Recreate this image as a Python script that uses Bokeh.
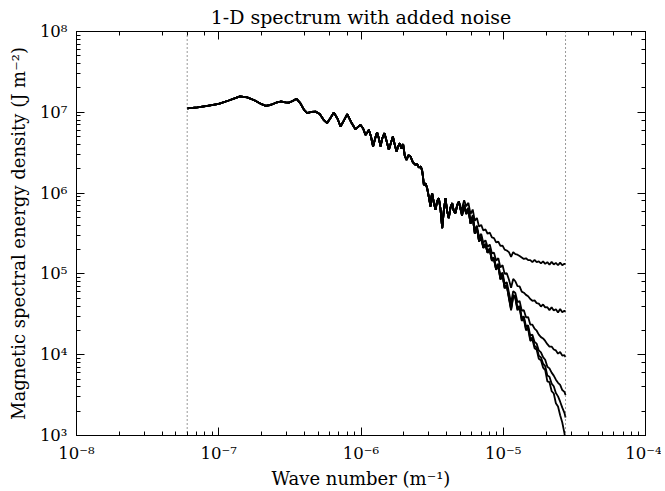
from bokeh.plotting import figure
from bokeh.models import LogAxis, CustomJSTickFormatter, Span, Range1d
from bokeh.embed import file_html
from bokeh.resources import INLINE

# ---- data (wave number in m^-1, energy density in J m^-2)
shared_k = [6.0e-8, 7.08e-8, 8.32e-8, 1.0e-7, 1.175e-7, 1.32e-7, 1.41e-7, 1.585e-7, 1.78e-7, 2.0e-7,
            2.14e-7, 2.34e-7, 2.57e-7, 2.72e-7, 2.95e-7, 3.11e-7, 3.31e-7, 3.52e-7, 3.72e-7, 3.98e-7,
            4.19e-7, 4.47e-7, 4.79e-7, 5.13e-7, 5.50e-7, 5.78e-7, 6.10e-7, 6.44e-7, 6.84e-7, 7.18e-7,
            7.59e-7, 8.0e-7, 8.51e-7, 9.14e-7, 9.55e-7, 9.9e-7, 1.035e-6, 1.076e-6, 1.109e-6, 1.135e-6,
            1.175e-6, 1.216e-6, 1.259e-6, 1.297e-6, 1.334e-6, 1.371e-6, 1.413e-6, 1.462e-6, 1.514e-6, 1.570e-6,
            1.622e-6, 1.675e-6, 1.726e-6, 1.778e-6, 1.828e-6, 1.875e-6, 1.928e-6, 1.977e-6, 2.032e-6, 2.089e-6,
            2.158e-6, 2.228e-6, 2.317e-6, 2.415e-6, 2.483e-6, 2.553e-6, 2.630e-6, 2.692e-6, 2.729e-6, 2.767e-6,
            2.844e-6, 2.917e-6, 2.999e-6, 3.083e-6, 3.126e-6, 3.162e-6, 3.251e-6, 3.342e-6, 3.428e-6, 3.524e-6,
            3.622e-6, 3.724e-6, 3.819e-6, 3.926e-6, 4.027e-6, 4.140e-6, 4.256e-6, 4.375e-6, 4.487e-6, 4.613e-6,
            4.742e-6, 4.875e-6, 5.012e-6]
shared_E = [1.12e7, 1.15e7, 1.20e7, 1.27e7, 1.40e7, 1.51e7, 1.57e7, 1.53e7, 1.41e7, 1.26e7,
            1.20e7, 1.24e7, 1.33e7, 1.36e7, 1.33e7, 1.32e7, 1.38e7, 1.47e7, 1.32e7, 1.07e7,
            9.75e6, 1.01e7, 1.02e7, 9.55e6, 7.94e6, 7.35e6, 8.51e6, 9.95e6, 8.32e6, 6.67e6,
            7.94e6, 9.48e6, 7.59e6, 6.18e6, 6.61e6, 7.0e6, 6.31e6, 5.26e6, 5.62e6, 6.07e6,
            5.01e6, 3.78e6, 4.79e6, 5.68e6, 4.79e6, 3.78e6, 4.79e6, 5.52e6, 4.37e6, 3.44e6,
            4.17e6, 5.01e6, 3.98e6, 3.27e6, 3.80e6, 4.15e6, 3.55e6, 4.04e6, 2.88e6, 2.58e6,
            2.95e6, 2.84e6, 2.40e6, 2.24e6, 2.29e6, 2.07e6, 2.14e6, 1.89e6, 1.58e6, 1.26e6,
            1.32e6, 1.15e6, 8.91e5, 6.82e5, 8.91e5, 9.98e5, 7.59e5, 6.21e5, 7.94e5, 8.65e5,
            6.31e5, 3.68e5, 6.03e5, 8.65e5, 6.03e5, 4.90e5, 6.61e5, 7.52e5, 6.03e5, 5.65e5,
            7.08e5, 7.87e5, 6.31e5]

tail_k = [5.13e-6, 5.31e-6, 5.50e-6, 5.69e-6, 5.89e-6, 6.10e-6, 6.31e-6, 6.53e-6, 6.76e-6, 7.00e-6,
          7.24e-6, 7.50e-6, 7.76e-6, 8.04e-6, 8.32e-6, 8.61e-6, 8.91e-6, 9.23e-6, 9.55e-6, 9.89e-6,
          1.023e-5, 1.059e-5, 1.096e-5, 1.135e-5, 1.175e-5, 1.216e-5, 1.259e-5, 1.303e-5, 1.349e-5, 1.396e-5,
          1.445e-5, 1.496e-5, 1.549e-5, 1.603e-5, 1.660e-5, 1.718e-5, 1.778e-5, 1.841e-5, 1.905e-5, 1.972e-5,
          2.042e-5, 2.113e-5, 2.188e-5, 2.265e-5, 2.344e-5, 2.427e-5, 2.512e-5, 2.600e-5, 2.692e-5, 2.742e-5]

tail_no_noise = [5.25e5, 6.92e5, 5.50e5, 6.31e5, 4.17e5, 5.01e5, 3.16e5, 3.63e5, 2.51e5, 2.82e5,
                 2.09e5, 2.29e5, 1.82e5, 2.00e5, 1.45e5, 1.51e5, 1.12e5, 1.26e5, 8.51e4, 9.55e4,
                 6.61e4, 7.08e4, 5.01e4, 3.55e4, 5.25e4, 5.01e4, 3.55e4, 3.80e4, 2.63e4, 2.75e4,
                 2.00e4, 2.09e4, 1.48e4, 1.55e4, 1.20e4, 1.15e4, 8.91e3, 8.51e3, 6.92e3, 6.46e3,
                 4.68e3, 4.57e3, 3.55e3, 3.31e3, 2.51e3, 2.29e3, 1.78e3, 1.45e3, 1.07e3, 8.7e2]
tail_noise_1 = [6.55e5, 8.16e5, 6.86e5, 7.58e5, 5.50e5, 6.26e5, 4.54e5, 4.91e5, 3.85e5, 4.04e5,
                3.45e5, 3.55e5, 3.14e5, 3.24e5, 2.83e5, 2.78e5, 2.45e5, 2.51e5, 2.22e5, 2.24e5,
                2.00e5, 1.95e5, 1.86e5, 1.63e5, 1.86e5, 1.76e5, 1.73e5, 1.67e5, 1.60e5, 1.53e5,
                1.56e5, 1.48e5, 1.48e5, 1.40e5, 1.49e5, 1.40e5, 1.43e5, 1.35e5, 1.43e5, 1.33e5,
                1.40e5, 1.30e5, 1.41e5, 1.31e5, 1.37e5, 1.28e5, 1.38e5, 1.28e5, 1.34e5, 1.31e5]
tail_noise_2 = [5.58e5, 7.23e5, 5.85e5, 6.63e5, 4.51e5, 5.32e5, 3.51e5, 3.95e5, 2.85e5, 3.13e5,
                2.44e5, 2.61e5, 2.16e5, 2.31e5, 1.80e5, 1.83e5, 1.46e5, 1.57e5, 1.20e5, 1.28e5,
                1.00e5, 1.02e5, 8.51e4, 6.75e4, 8.65e4, 8.11e4, 7.05e4, 7.00e4, 6.03e4, 5.85e4,
                5.50e4, 5.29e4, 4.88e4, 4.65e4, 4.70e4, 4.35e4, 4.29e4, 3.95e4, 4.19e4, 3.85e4,
                3.87e4, 3.56e4, 3.86e4, 3.53e4, 3.65e4, 3.33e4, 3.68e4, 3.35e4, 3.51e4, 3.39e4]
tail_noise_3 = [5.34e5, 7.00e5, 5.59e5, 6.39e5, 4.26e5, 5.09e5, 3.25e5, 3.71e5, 2.60e5, 2.90e5,
                2.18e5, 2.37e5, 1.91e5, 2.08e5, 1.54e5, 1.59e5, 1.21e5, 1.34e5, 9.41e4, 1.04e5,
                7.49e4, 7.88e4, 5.91e4, 4.38e4, 6.13e4, 5.81e4, 4.45e4, 4.63e4, 3.51e4, 3.55e4,
                2.90e4, 2.92e4, 2.36e4, 2.35e4, 2.10e4, 1.98e4, 1.77e4, 1.65e4, 1.59e4, 1.48e4,
                1.35e4, 1.26e4, 1.26e4, 1.16e4, 1.13e4, 1.03e4, 1.08e4, 9.75e3, 9.87e3, 9.37e3]
tail_noise_4 = [5.27e5, 6.94e5, 5.52e5, 6.33e5, 4.19e5, 5.03e5, 3.18e5, 3.65e5, 2.53e5, 2.84e5,
                2.11e5, 2.31e5, 1.84e5, 2.02e5, 1.47e5, 1.53e5, 1.14e5, 1.28e5, 8.75e4, 9.77e4,
                6.85e4, 7.30e4, 5.25e4, 3.77e4, 5.49e4, 5.23e4, 3.79e4, 4.02e4, 2.87e4, 2.97e4,
                2.24e4, 2.31e4, 1.72e4, 1.77e4, 1.44e4, 1.37e4, 1.13e4, 1.07e4, 9.32e3, 8.66e3,
                7.08e3, 6.77e3, 6.00e3, 5.51e3, 4.91e3, 4.49e3, 4.23e3, 3.65e3, 3.47e3, 3.17e3]
tail_noise_5 = [5.26e5, 6.93e5, 5.51e5, 6.32e5, 4.18e5, 5.02e5, 3.17e5, 3.64e5, 2.52e5, 2.83e5,
                2.10e5, 2.30e5, 1.83e5, 2.01e5, 1.46e5, 1.52e5, 1.13e5, 1.27e5, 8.59e4, 9.63e4,
                6.69e4, 7.16e4, 5.09e4, 3.63e4, 5.33e4, 5.09e4, 3.63e4, 3.88e4, 2.71e4, 2.83e4,
                2.08e4, 2.17e4, 1.56e4, 1.63e4, 1.28e4, 1.23e4, 9.75e3, 9.27e3, 7.76e3, 7.22e3,
                5.52e3, 5.33e3, 4.39e3, 4.07e3, 3.35e3, 3.05e3, 2.62e3, 2.21e3, 1.91e3, 1.67e3]

window_limits = [6.0e-8, 2.74e-5]

title_text = "1-D spectrum with added noise"
x_label = "Wave number (m\u207b\u00b9)"
y_label = "Magnetic spectral energy density (J m\u207b\u00b2)"

FONT = "DejaVu Serif"

p = figure(frame_width=569, frame_height=404, x_axis_type="log", y_axis_type="log",
           x_range=Range1d(1e-8, 1e-4), y_range=Range1d(1e3, 1e8),
           output_backend="svg", toolbar_location=None,
           min_border_left=76, min_border_right=16, min_border_top=30, min_border_bottom=52)
p.background_fill_color = "white"
p.border_fill_color = "white"
p.grid.visible = False
p.outline_line_color = "black"
p.outline_line_width = 1

p.title.text = title_text
p.title.align = "center"
p.title.text_font = FONT
p.title.text_font_style = "normal"
p.title.text_font_size = "19px"
p.title.text_color = "black"
p.title.standoff = 7

fmt = CustomJSTickFormatter(code="""
const sup = {'-':'\u207b','0':'\u2070','1':'\u00b9','2':'\u00b2','3':'\u00b3','4':'\u2074',
             '5':'\u2075','6':'\u2076','7':'\u2077','8':'\u2078','9':'\u2079'};
const e = Math.round(Math.log10(tick));
return '10' + String(e).split('').map(c => sup[c]).join('');
""")

def style_ticks(ax):
    ax.major_tick_in = 8
    ax.major_tick_out = 0
    ax.minor_tick_in = 4
    ax.minor_tick_out = 0
    ax.axis_line_color = "black"
    ax.major_tick_line_color = "black"
    ax.minor_tick_line_color = "black"

xa = p.below[0]
ya = p.left[0]
for ax, lab in ((xa, x_label), (ya, y_label)):
    style_ticks(ax)
    ax.formatter = fmt
    ax.axis_label = lab
    ax.axis_label_text_font = FONT
    ax.axis_label_text_font_style = "normal"
    ax.axis_label_text_font_size = "18px"
    ax.axis_label_text_color = "black"
    ax.major_label_text_font = FONT
    ax.major_label_text_font_size = "16.5px"
    ax.major_label_text_color = "black"
xa.major_label_standoff = 8
xa.axis_label_standoff = 2
ya.major_label_standoff = 9
ya.axis_label_standoff = 8

for pos in ("above", "right"):
    ax = LogAxis()
    style_ticks(ax)
    ax.major_label_text_font_size = "1px"
    ax.major_label_text_color = None
    ax.major_label_standoff = 0
    p.add_layout(ax, pos)

for xv in window_limits:
    p.add_layout(Span(location=xv, dimension="height", line_color="#333333",
                      line_width=1, line_dash="1 3"))

for tail in (tail_noise_1, tail_noise_2, tail_noise_3, tail_noise_4, tail_noise_5, tail_no_noise):
    p.line(shared_k + tail_k, shared_E + tail, line_color="black", line_width=1.8)

open("out.html", "w").write(file_html(p, INLINE))
